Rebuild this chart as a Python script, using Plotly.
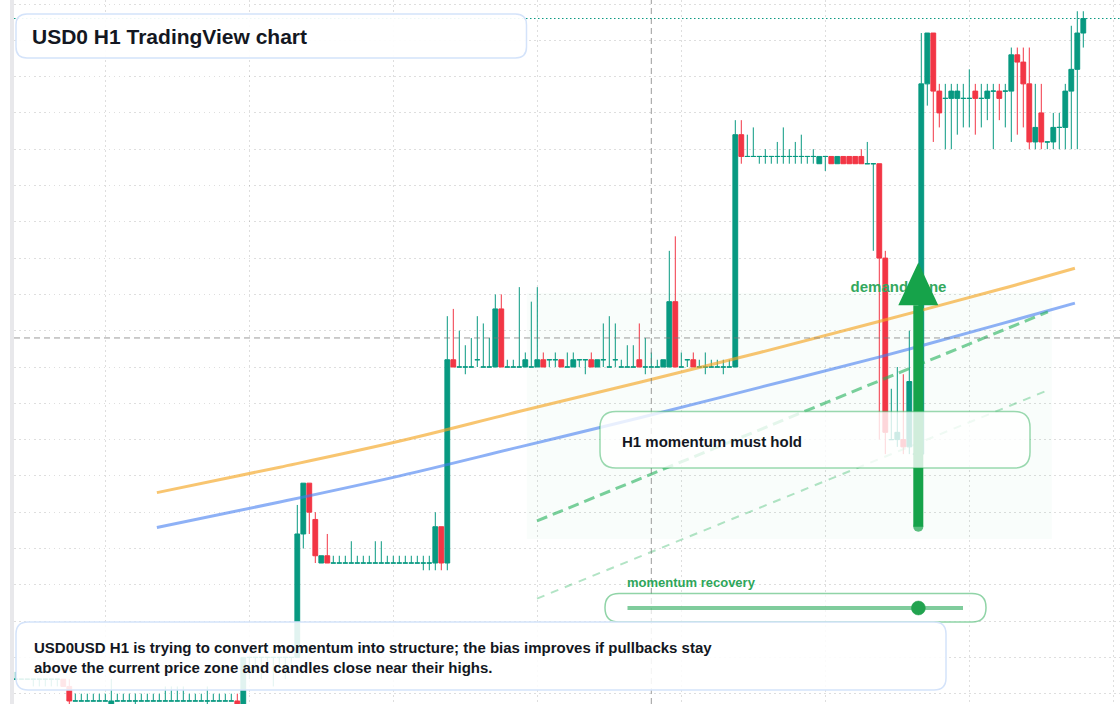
import pandas as pd
import plotly.graph_objects as go

# ---------------- data (H1 candles, USD0/USD) ----------------
open_ = [
    0.9917, 0.9917, 0.9917, 0.9917, 0.9917, 0.9917, 0.9917, 0.9917, 0.9917, 0.9916,
    0.9914, 0.9914, 0.9914, 0.9914, 0.9914, 0.9914, 0.9913, 0.9914, 0.9914, 0.9914,
    0.9914, 0.9914, 0.9914, 0.9914, 0.9914, 0.9914, 0.9914, 0.9914, 0.9914, 0.9914,
    0.9914, 0.9914, 0.9914, 0.9914, 0.9914, 0.9914, 0.9914, 0.9914, 0.9913, 0.9920,
    0.9920, 0.9920, 0.9920, 0.9920, 0.9920, 0.9920, 0.9920, 0.9920, 0.9937, 0.9944,
    0.9939, 0.9933, 0.9934, 0.9933, 0.9933, 0.9933, 0.9933, 0.9933, 0.9933, 0.9933,
    0.9933, 0.9933, 0.9933, 0.9933, 0.9933, 0.9933, 0.9933, 0.9933, 0.9933, 0.9933,
    0.9933, 0.9938, 0.9933, 0.9961, 0.9960, 0.9960, 0.9960, 0.9961, 0.9960, 0.9960,
    0.9960, 0.9968, 0.9960, 0.9960, 0.9960, 0.9960, 0.9960, 0.9960, 0.9961, 0.9961,
    0.9961, 0.9961, 0.9960, 0.9960, 0.9961, 0.9961, 0.9961, 0.9960, 0.9961, 0.9960,
    0.9961, 0.9960, 0.9960, 0.9960, 0.9961, 0.9960, 0.9960, 0.9960, 0.9960, 0.9960,
    0.9969, 0.9960, 0.9961, 0.9961, 0.9960, 0.9960, 0.9960, 0.9960, 0.9960, 0.9960,
    0.9960, 0.9992, 0.9989, 0.9989, 0.9989, 0.9989, 0.9989, 0.9989, 0.9989, 0.9989,
    0.9989, 0.9989, 0.9989, 0.9989, 0.9988, 0.9989, 0.9989, 0.9988, 0.9989, 0.9989,
    0.9989, 0.9989, 0.9988, 0.9988, 0.9988, 0.9975, 0.9950, 0.9950, 0.9950, 0.9949,
    0.9948, 0.9948, 0.9999, 1.0006, 0.9998, 0.9997, 0.9997, 0.9997, 0.9997, 0.9997,
    0.9998, 0.9997, 0.9997, 0.9998, 0.9998, 0.9998, 0.9998, 1.0003, 1.0002, 0.9999,
    0.9991, 0.9995, 0.9991, 0.9991, 0.9993, 0.9993, 0.9998, 1.0001, 1.0006,
]
high_ = [
    0.9918, 0.9917, 0.9917, 0.9917, 0.9917, 0.9917, 0.9917, 0.9917, 0.9917, 0.9917,
    0.9915, 0.9915, 0.9915, 0.9915, 0.9915, 0.9915, 0.9917, 0.9915, 0.9915, 0.9915,
    0.9915, 0.9915, 0.9915, 0.9915, 0.9915, 0.9916, 0.9916, 0.9916, 0.9916, 0.9915,
    0.9915, 0.9915, 0.9916, 0.9915, 0.9915, 0.9915, 0.9915, 0.9915, 0.9920, 0.9920,
    0.9920, 0.9920, 0.9920, 0.9920, 0.9920, 0.9920, 0.9920, 0.9941, 0.9944, 0.9944,
    0.9940, 0.9934, 0.9937, 0.9934, 0.9934, 0.9934, 0.9936, 0.9934, 0.9934, 0.9934,
    0.9936, 0.9936, 0.9934, 0.9934, 0.9934, 0.9934, 0.9934, 0.9934, 0.9934, 0.9934,
    0.9940, 0.9938, 0.9967, 0.9968, 0.9965, 0.9963, 0.9964, 0.9967, 0.9966, 0.9964,
    0.9970, 0.9970, 0.9961, 0.9961, 0.9971, 0.9962, 0.9969, 0.9971, 0.9962, 0.9961,
    0.9962, 0.9961, 0.9962, 0.9962, 0.9961, 0.9961, 0.9962, 0.9961, 0.9966, 0.9967,
    0.9966, 0.9961, 0.9963, 0.9963, 0.9966, 0.9964, 0.9962, 0.9961, 0.9961, 0.9976,
    0.9978, 0.9962, 0.9961, 0.9962, 0.9961, 0.9962, 0.9961, 0.9961, 0.9961, 0.9961,
    0.9994, 0.9994, 0.9992, 0.9993, 0.9989, 0.9990, 0.9989, 0.9991, 0.9993, 0.9990,
    0.9991, 0.9992, 0.9989, 0.9990, 0.9989, 0.9989, 0.9989, 0.9989, 0.9989, 0.9989,
    0.9989, 0.9990, 0.9991, 0.9988, 0.9988, 0.9976, 0.9957, 0.9960, 0.9959, 0.9965,
    0.9955, 1.0006, 1.0006, 1.0006, 0.9999, 0.9999, 0.9999, 0.9999, 0.9999, 1.0001,
    0.9999, 0.9999, 0.9999, 0.9999, 0.9999, 0.9999, 1.0004, 1.0004, 1.0004, 1.0004,
    0.9999, 0.9999, 0.9991, 0.9995, 0.9995, 0.9999, 1.0007, 1.0009, 1.0009,
]
low_ = [
    0.9917, 0.9917, 0.9917, 0.9916, 0.9916, 0.9916, 0.9916, 0.9916, 0.9916, 0.9913,
    0.9914, 0.9914, 0.9914, 0.9914, 0.9914, 0.9914, 0.9913, 0.9914, 0.9914, 0.9914,
    0.9913, 0.9914, 0.9914, 0.9914, 0.9914, 0.9914, 0.9914, 0.9914, 0.9914, 0.9914,
    0.9914, 0.9914, 0.9913, 0.9914, 0.9914, 0.9914, 0.9914, 0.9912, 0.9912, 0.9917,
    0.9918, 0.9917, 0.9918, 0.9916, 0.9918, 0.9917, 0.9918, 0.9920, 0.9935, 0.9937,
    0.9933, 0.9933, 0.9933, 0.9933, 0.9933, 0.9933, 0.9933, 0.9933, 0.9933, 0.9933,
    0.9933, 0.9933, 0.9933, 0.9933, 0.9933, 0.9933, 0.9933, 0.9933, 0.9932, 0.9932,
    0.9932, 0.9932, 0.9932, 0.9960, 0.9960, 0.9959, 0.9960, 0.9960, 0.9960, 0.9960,
    0.9960, 0.9960, 0.9960, 0.9960, 0.9960, 0.9960, 0.9960, 0.9960, 0.9960, 0.9960,
    0.9960, 0.9960, 0.9960, 0.9960, 0.9960, 0.9959, 0.9960, 0.9960, 0.9960, 0.9960,
    0.9960, 0.9960, 0.9960, 0.9960, 0.9960, 0.9959, 0.9960, 0.9960, 0.9960, 0.9960,
    0.9960, 0.9960, 0.9960, 0.9960, 0.9960, 0.9959, 0.9960, 0.9960, 0.9959, 0.9960,
    0.9960, 0.9988, 0.9989, 0.9989, 0.9988, 0.9988, 0.9988, 0.9988, 0.9988, 0.9988,
    0.9988, 0.9988, 0.9988, 0.9988, 0.9988, 0.9987, 0.9988, 0.9988, 0.9988, 0.9988,
    0.9988, 0.9988, 0.9988, 0.9976, 0.9950, 0.9948, 0.9950, 0.9949, 0.9948, 0.9948,
    0.9948, 0.9948, 0.9996, 0.9991, 0.9993, 0.9990, 0.9990, 0.9992, 0.9993, 0.9993,
    0.9992, 0.9993, 0.9994, 0.9990, 0.9994, 0.9993, 0.9991, 0.9992, 0.9993, 0.9990,
    0.9990, 0.9990, 0.9990, 0.9990, 0.9990, 0.9990, 0.9990, 0.9990, 1.0004,
]
close_ = [
    0.9917, 0.9917, 0.9917, 0.9917, 0.9917, 0.9917, 0.9917, 0.9917, 0.9916, 0.9914,
    0.9914, 0.9914, 0.9914, 0.9914, 0.9914, 0.9914, 0.9914, 0.9914, 0.9914, 0.9914,
    0.9914, 0.9914, 0.9914, 0.9914, 0.9914, 0.9914, 0.9914, 0.9914, 0.9914, 0.9914,
    0.9914, 0.9914, 0.9914, 0.9914, 0.9914, 0.9914, 0.9914, 0.9913, 0.9920, 0.9920,
    0.9920, 0.9920, 0.9920, 0.9920, 0.9920, 0.9920, 0.9920, 0.9937, 0.9944, 0.9940,
    0.9934, 0.9934, 0.9933, 0.9933, 0.9933, 0.9933, 0.9933, 0.9933, 0.9933, 0.9933,
    0.9933, 0.9933, 0.9933, 0.9933, 0.9933, 0.9933, 0.9933, 0.9933, 0.9933, 0.9933,
    0.9938, 0.9933, 0.9961, 0.9960, 0.9960, 0.9960, 0.9960, 0.9961, 0.9960, 0.9960,
    0.9968, 0.9960, 0.9960, 0.9960, 0.9960, 0.9961, 0.9960, 0.9961, 0.9960, 0.9961,
    0.9961, 0.9960, 0.9960, 0.9961, 0.9961, 0.9961, 0.9960, 0.9961, 0.9961, 0.9960,
    0.9961, 0.9960, 0.9960, 0.9960, 0.9960, 0.9960, 0.9960, 0.9960, 0.9961, 0.9969,
    0.9960, 0.9960, 0.9961, 0.9960, 0.9960, 0.9960, 0.9960, 0.9960, 0.9960, 0.9960,
    0.9992, 0.9989, 0.9989, 0.9989, 0.9989, 0.9989, 0.9989, 0.9989, 0.9989, 0.9989,
    0.9989, 0.9989, 0.9989, 0.9989, 0.9989, 0.9989, 0.9988, 0.9989, 0.9988, 0.9988,
    0.9988, 0.9988, 0.9988, 0.9988, 0.9975, 0.9951, 0.9950, 0.9951, 0.9949, 0.9958,
    0.9948, 0.9999, 1.0006, 0.9998, 0.9995, 0.9997, 0.9998, 0.9998, 0.9997, 0.9997,
    0.9997, 0.9997, 0.9998, 0.9998, 0.9997, 0.9998, 1.0003, 1.0002, 0.9999, 0.9991,
    0.9993, 0.9991, 0.9991, 0.9993, 0.9993, 0.9998, 1.0001, 1.0006, 1.0008,
]

# overlay studies (hour offset from first candle, price)
ma_hours = [23.6, 44.1, 64.1, 84.1, 104.1, 124.1, 144.1, 164.1, 176.6]
ma_slow = [0.99427, 0.99462, 0.99498, 0.99539, 0.99579, 0.99620, 0.99663, 0.99707, 0.99736]
ma_fast = [0.99379, 0.99414, 0.99450, 0.99490, 0.99530, 0.99572, 0.99614, 0.99659, 0.99688]
trend_hours = [86.95, 172.1]
trend_upper = [0.99388, 0.99676]
trend_lower = [0.99281, 0.99568]
zone_hours = [85.25, 172.75]
zone_prices = [0.99363, 0.99702]
cross_hour = 106
cross_price = 0.9964
arrow_hour = 150.5
arrow_prices = [0.99380, 0.99685, 0.99744]   # tail, head base, tip
arrow_half_width_h = 3.33
demand_label = (147.2, 0.99708)
momentum_value = 0.867   # position on the recovery gauge

START = pd.Timestamp("2025-03-10 09:00")
N = len(open_)
times = pd.date_range(START, periods=N, freq="h")


def t_at(h):
    return START + pd.Timedelta(hours=h)


UP = "#089981"
DN = "#F23645"
FONT = "Liberation Sans, Arial, sans-serif"
INK = "#131722"

fig = go.Figure()

up_idx = [i for i in range(N) if close_[i] >= open_[i]]
dn_idx = [i for i in range(N) if close_[i] < open_[i]]
for idx, col in ((up_idx, UP), (dn_idx, DN)):
    fig.add_trace(go.Candlestick(
        x=[times[i] for i in idx],
        open=[open_[i] for i in idx], high=[high_[i] for i in idx],
        low=[low_[i] for i in idx], close=[close_[i] for i in idx],
        increasing=dict(line=dict(color=col, width=1), fillcolor=col),
        decreasing=dict(line=dict(color=col, width=1), fillcolor=col),
        whiskerwidth=0, hoverinfo="skip", showlegend=False))

# moving averages
fig.add_trace(go.Scatter(x=[t_at(h) for h in ma_hours], y=ma_slow, mode="lines",
                         line=dict(color="rgba(245,166,35,0.65)", width=3, shape="spline"),
                         hoverinfo="skip"))
fig.add_trace(go.Scatter(x=[t_at(h) for h in ma_hours], y=ma_fast, mode="lines",
                         line=dict(color="rgba(66,125,240,0.6)", width=3, shape="spline"),
                         hoverinfo="skip"))
# trend channel
fig.add_trace(go.Scatter(x=[t_at(h) for h in trend_hours], y=trend_upper, mode="lines",
                         line=dict(color="rgba(34,177,90,0.6)", width=3, dash="11px,6px"),
                         hoverinfo="skip"))
fig.add_trace(go.Scatter(x=[t_at(h) for h in trend_hours], y=trend_lower, mode="lines",
                         line=dict(color="rgba(34,177,90,0.35)", width=2, dash="8px,7px"),
                         hoverinfo="skip"))
# crosshair + last price line
x_lo, x_hi = t_at(-0.2167), t_at(184.117)
y_lo, y_hi = 0.99135813, 1.0010551
fig.add_trace(go.Scatter(x=[t_at(cross_hour)] * 2, y=[y_lo, y_hi], mode="lines",
                         line=dict(color="rgba(120,120,120,0.75)", width=1, dash="6px,4px"),
                         hoverinfo="skip"))
fig.add_trace(go.Scatter(x=[x_lo, x_hi], y=[cross_price] * 2, mode="lines",
                         line=dict(color="rgba(120,120,120,0.75)", width=1, dash="6px,4px"),
                         hoverinfo="skip"))
fig.add_trace(go.Scatter(x=[x_lo, x_hi], y=[close_[-1]] * 2, mode="lines",
                         line=dict(color=UP, width=1, dash="1.5px,2.5px"),
                         hoverinfo="skip"))
# demand zone label (under the arrow)
fig.add_trace(go.Scatter(x=[t_at(demand_label[0])], y=[demand_label[1]], mode="text",
                         text=["demand zone"], textposition="middle center",
                         textfont=dict(family=FONT, size=15, color="#33a85e", weight="bold"),
                         hoverinfo="skip"))
# arrow
AG = "#16a34a"
fig.add_trace(go.Scatter(x=[t_at(arrow_hour)] * 2, y=arrow_prices[:2], mode="lines+markers",
                         line=dict(color=AG, width=10),
                         marker=dict(size=[10, 0], color=AG, line=dict(width=0)),
                         hoverinfo="skip"))
fig.add_trace(go.Scatter(
    x=[t_at(arrow_hour - arrow_half_width_h), t_at(arrow_hour), t_at(arrow_hour + arrow_half_width_h),
       t_at(arrow_hour - arrow_half_width_h)],
    y=[arrow_prices[1], arrow_prices[2], arrow_prices[1], arrow_prices[1]],
    mode="lines", fill="toself", fillcolor=AG, line=dict(width=0, color=AG), hoverinfo="skip"))

# ---------------- overlay panels (pixel -> paper) ----------------
PL, PW, PH = 14, 1106, 704


def px(x):
    return (x - PL) / PW


def py(y):
    return 1 - y / PH


def rrect(x0, y0, x1, y1, r):
    pts = [("M", x0 + r, y0), ("L", x1 - r, y0), ("Q", x1, y0, x1, y0 + r), ("L", x1, y1 - r),
           ("Q", x1, y1, x1 - r, y1), ("L", x0 + r, y1), ("Q", x0, y1, x0, y1 - r),
           ("L", x0, y0 + r), ("Q", x0, y0, x0 + r, y0)]
    s = ""
    for p in pts:
        cmd, coords = p[0], p[1:]
        pairs = [f"{px(coords[k]):.5f},{py(coords[k + 1]):.5f}" for k in range(0, len(coords), 2)]
        s += cmd + " " + " ".join(pairs) + " "
    return s + "Z"


shapes = [
    dict(type="rect", xref="x", yref="y", layer="below",
         x0=t_at(zone_hours[0]), x1=t_at(zone_hours[1]), y0=zone_prices[0], y1=zone_prices[1],
         fillcolor="rgba(34,197,94,0.028)", line=dict(width=0)),
    dict(type="rect", xref="paper", yref="paper", x0=px(10), x1=px(14), y0=0, y1=1,
         fillcolor="#e8e8eb", line=dict(width=0), layer="above"),
    dict(type="path", xref="paper", yref="paper", layer="above",
         path=rrect(16, 14, 526.5, 58, 11), fillcolor="rgba(255,255,255,0.93)",
         line=dict(color="#d4e3fa", width=1.5)),
    dict(type="path", xref="paper", yref="paper", layer="above",
         path=rrect(600, 411.5, 1030, 468, 16), fillcolor="rgba(255,255,255,0.8)",
         line=dict(color="rgba(34,170,80,0.45)", width=1.5)),
    dict(type="path", xref="paper", yref="paper", layer="above",
         path=rrect(605, 593.5, 986, 622, 14), fillcolor="rgba(255,255,255,0.7)",
         line=dict(color="rgba(34,170,80,0.5)", width=1.5)),
    dict(type="line", xref="paper", yref="paper", layer="above",
         x0=px(627.5), x1=px(963), y0=py(608), y1=py(608),
         line=dict(color="rgba(22,163,74,0.55)", width=4)),
    dict(type="circle", xref="paper", yref="paper", layer="above",
         x0=px(627.5 + momentum_value * 335.5 - 7), x1=px(627.5 + momentum_value * 335.5 + 7),
         y0=py(601), y1=py(615), fillcolor="#22a34f", line=dict(color="rgba(34,163,79,0.5)", width=1)),
    dict(type="path", xref="paper", yref="paper", layer="above",
         path=rrect(16, 622, 946, 690, 12), fillcolor="rgba(255,255,255,0.88)",
         line=dict(color="#d4e3fa", width=1.5)),
]

annotations = [
    dict(xref="paper", yref="paper", x=px(30), y=py(36.5), xanchor="left", yanchor="middle",
         text="USD0 H1 TradingView chart", showarrow=False,
         font=dict(family=FONT, size=21, color=INK, weight="bold")),
    dict(xref="paper", yref="paper", x=px(620), y=py(441.5), xanchor="left", yanchor="middle",
         text="H1 momentum must hold", showarrow=False,
         font=dict(family=FONT, size=15, color=INK, weight="bold")),
    dict(xref="paper", yref="paper", x=px(625), y=py(582.5), xanchor="left", yanchor="middle",
         text="momentum recovery", showarrow=False,
         font=dict(family=FONT, size=13, color="#2ea65a", weight="bold")),
    dict(xref="paper", yref="paper", x=px(32), y=py(657.5), xanchor="left", yanchor="middle",
         align="left", showarrow=False,
         text="USD0USD H1 is trying to convert momentum into structure; the bias improves if pullbacks stay"
              "<br>above the current price zone and candles close near their highs.",
         font=dict(family=FONT, size=15, color=INK, weight="bold")),
]

GRID = "rgba(0,0,0,0.13)"
fig.update_layout(
    width=1120, height=704, margin=dict(l=14, r=0, t=0, b=0),
    paper_bgcolor="white", plot_bgcolor="white", showlegend=False,
    boxgap=0.2, boxgroupgap=0,
    shapes=shapes, annotations=annotations,
    xaxis=dict(type="date", range=[x_lo, x_hi], showgrid=True, gridcolor=GRID, griddash="1.5px,3.5px",
               gridwidth=1, dtick=86400000, tick0="2025-03-11 00:00", showticklabels=False,
               zeroline=False, showline=False, rangeslider=dict(visible=False), fixedrange=True),
    yaxis=dict(range=[y_lo, y_hi], showgrid=True, gridcolor=GRID, griddash="1.5px,3.5px", gridwidth=1,
               dtick=0.0005, tick0=1.0010, showticklabels=False, zeroline=False, showline=False,
               fixedrange=True),
)

fig.write_html("out.html")
